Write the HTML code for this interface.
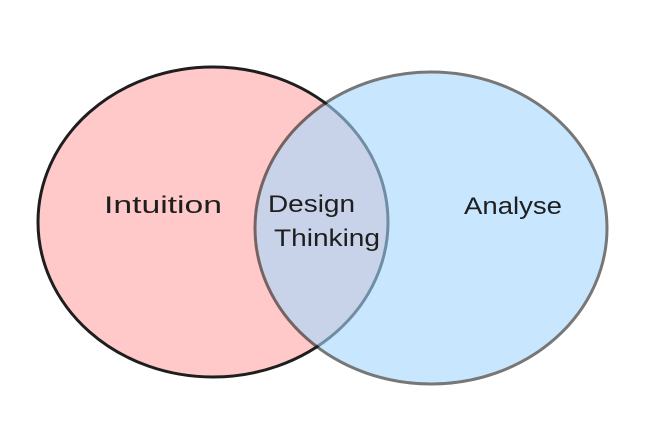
<!DOCTYPE html>
<html><head><style>
html,body{margin:0;padding:0;background:#fff;width:660px;height:442px;overflow:hidden}
text{font-family:"Liberation Sans",sans-serif;font-size:24px;fill:#1e1e1e}
</style></head><body>
<svg width="660" height="442" viewBox="0 0 660 442" xmlns="http://www.w3.org/2000/svg">
<ellipse cx="213" cy="222" rx="175" ry="155" fill="#ffc9c9" stroke="#1e1e1e" stroke-width="3"/>
<g opacity="0.6">
<ellipse cx="431" cy="228" rx="176" ry="156" fill="#a5d8ff" stroke="#1e1e1e" stroke-width="3"/>
</g>
<text x="104" y="213" textLength="118" lengthAdjust="spacingAndGlyphs">Intuition</text>
<text x="268" y="212" textLength="87" lengthAdjust="spacingAndGlyphs">Design</text>
<text x="274" y="246" textLength="106" lengthAdjust="spacingAndGlyphs">Thinking</text>
<text x="464" y="214" textLength="98" lengthAdjust="spacingAndGlyphs">Analyse</text>
</svg>
</body></html>
